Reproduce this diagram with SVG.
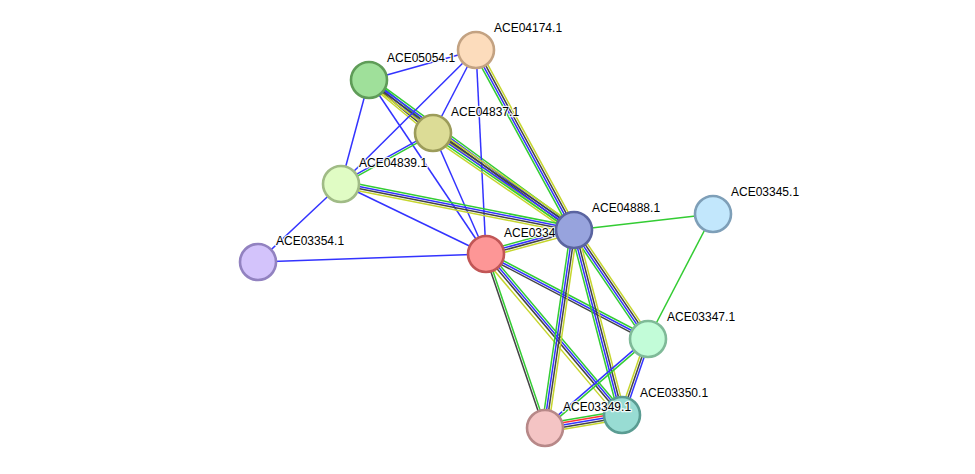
<svg xmlns="http://www.w3.org/2000/svg" width="975" height="474" viewBox="0 0 975 474">
<style>
line{stroke-width:1.5;fill:none}
.g{stroke:#33cc33}.b{stroke:#3333ff}.k{stroke:#444444}.y{stroke:#c6d62e}.r{stroke:#ff3333}
.node circle{stroke-width:2.6}
.node text{font-family:"Liberation Sans",Arial,sans-serif;font-size:12px;fill:#000;stroke:#fff;stroke-width:2.5;stroke-opacity:0.85;paint-order:stroke;stroke-linejoin:round}
</style>
<rect width="975" height="474" fill="#ffffff"/>
<g id="edges">
<g transform="translate(369,80) rotate(-15.66)"><line class="b" x2="111.1"/></g>
<g transform="translate(369,80) rotate(105.07)"><line class="b" x2="107.7"/></g>
<g transform="translate(369,80) rotate(56.08)"><line class="b" x2="209.7"/></g>
<g transform="translate(369,80) rotate(39.63)"><line class="g" y1="-3.3" y2="-3.3" x2="83.1"/><line class="b" y1="-1.1" y2="-1.1" x2="83.1"/><line class="k" y1="1.1" y2="1.1" x2="83.1"/><line class="y" y1="3.3" y2="3.3" x2="83.1"/></g>
<g transform="translate(369,80) rotate(36.19)"><line class="g" y1="-3.3" y2="-3.3" x2="254"/><line class="b" y1="-1.1" y2="-1.1" x2="254"/><line class="k" y1="1.1" y2="1.1" x2="254"/><line class="y" y1="3.3" y2="3.3" x2="254"/></g>
<g transform="translate(476,50) rotate(135.21)"><line class="b" x2="190.2"/></g>
<g transform="translate(476,50) rotate(117.39)"><line class="b" x2="93.5"/></g>
<g transform="translate(476,50) rotate(87.19)"><line class="b" x2="204.2"/></g>
<g transform="translate(476,50) rotate(61.43)"><line class="y" y1="-3.3" y2="-3.3" x2="204.9"/><line class="k" y1="-1.1" y2="-1.1" x2="204.9"/><line class="b" y1="1.1" y2="1.1" x2="204.9"/><line class="g" y1="3.3" y2="3.3" x2="204.9"/></g>
<g transform="translate(341,184) rotate(-29.0)"><line class="b" y1="-1.1" y2="-1.1" x2="105.2"/><line class="g" y1="1.1" y2="1.1" x2="105.2"/></g>
<g transform="translate(433,133) rotate(34.53)"><line class="y" y1="-4.4" y2="-4.4" x2="171.1"/><line class="k" y1="-2.2" y2="-2.2" x2="171.1"/><line class="b" y1="0" y2="0" x2="171.1"/><line class="g" y1="2.2" y2="2.2" x2="171.1"/><line class="y" y1="4.4" y2="4.4" x2="171.1"/></g>
<g transform="translate(433,133) rotate(66.35)"><line class="b" x2="132.1"/></g>
<g transform="translate(341,184) rotate(11.17)"><line class="g" y1="-3.3" y2="-3.3" x2="237.5"/><line class="b" y1="-1.1" y2="-1.1" x2="237.5"/><line class="k" y1="1.1" y2="1.1" x2="237.5"/><line class="y" y1="3.3" y2="3.3" x2="237.5"/></g>
<g transform="translate(341,184) rotate(25.77)"><line class="b" x2="161"/></g>
<g transform="translate(341,184) rotate(136.78)"><line class="b" x2="113.9"/></g>
<g transform="translate(258,262) rotate(-2.01)"><line class="b" x2="228.1"/></g>
<g transform="translate(486,254) rotate(-15.26)"><line class="g" y1="-3.3" y2="-3.3" x2="91.2"/><line class="b" y1="-1.1" y2="-1.1" x2="91.2"/><line class="k" y1="1.1" y2="1.1" x2="91.2"/><line class="y" y1="3.3" y2="3.3" x2="91.2"/></g>
<g transform="translate(486,254) rotate(27.68)"><line class="g" y1="-2.2" y2="-2.2" x2="182.9"/><line class="b" y1="0" y2="0" x2="182.9"/><line class="k" y1="2.2" y2="2.2" x2="182.9"/></g>
<g transform="translate(486,254) rotate(49.81)"><line class="g" y1="-3.3" y2="-3.3" x2="210.8"/><line class="b" y1="-1.1" y2="-1.1" x2="210.8"/><line class="k" y1="1.1" y2="1.1" x2="210.8"/><line class="y" y1="4.4" y2="4.4" x2="210.8"/></g>
<g transform="translate(486,254) rotate(71.27)"><line class="g" y1="-1.1" y2="-1.1" x2="183.7"/><line class="k" y1="1.1" y2="1.1" x2="183.7"/></g>
<g transform="translate(574,230) rotate(-6.57)"><line class="g" x2="139.9"/></g>
<g transform="translate(713,214) rotate(117.47)"><line class="g" x2="140.9"/></g>
<g transform="translate(574,230) rotate(55.83)"><line class="y" y1="-3.3" y2="-3.3" x2="131.7"/><line class="k" y1="-1.1" y2="-1.1" x2="131.7"/><line class="b" y1="1.1" y2="1.1" x2="131.7"/><line class="g" y1="3.3" y2="3.3" x2="131.7"/></g>
<g transform="translate(574,230) rotate(75.45)"><line class="y" y1="-3.3" y2="-3.3" x2="191.1"/><line class="k" y1="-1.1" y2="-1.1" x2="191.1"/><line class="b" y1="1.1" y2="1.1" x2="191.1"/><line class="g" y1="3.3" y2="3.3" x2="191.1"/></g>
<g transform="translate(574,230) rotate(98.33)"><line class="y" y1="-3.3" y2="-3.3" x2="200.1"/><line class="k" y1="-1.1" y2="-1.1" x2="200.1"/><line class="b" y1="1.1" y2="1.1" x2="200.1"/><line class="g" y1="3.3" y2="3.3" x2="200.1"/></g>
<g transform="translate(648,339) rotate(108.89)"><line class="b" y1="-2.2" y2="-2.2" x2="80.3"/><line class="k" y1="0" y2="0" x2="80.3"/><line class="y" y1="2.2" y2="2.2" x2="80.3"/></g>
<g transform="translate(648,339) rotate(139.17)"><line class="g" y1="-1.1" y2="-1.1" x2="136.1"/><line class="b" y1="1.1" y2="1.1" x2="136.1"/></g>
<g transform="translate(545,428) rotate(-9.58)"><line class="g" y1="-4.4" y2="-4.4" x2="78.1"/><line class="r" y1="-2.2" y2="-2.2" x2="78.1"/><line class="b" y1="0" y2="0" x2="78.1"/><line class="k" y1="2.2" y2="2.2" x2="78.1"/><line class="y" y1="4.4" y2="4.4" x2="78.1"/></g>
</g>
<g id="n-ACE04174" class="node"><circle cx="476" cy="50" r="18" fill="#fcdcbc" stroke="#c3a282"/><text x="494" y="32">ACE04174.1</text></g>
<g id="n-ACE05054" class="node"><circle cx="369" cy="80" r="18" fill="#9fe09a" stroke="#5f9c58"/><text x="387" y="62">ACE05054.1</text></g>
<g id="n-ACE04837" class="node"><circle cx="433" cy="133" r="18" fill="#dcdc96" stroke="#9c9c5a"/><text x="451" y="115.5">ACE04837.1</text></g>
<g id="n-ACE04839" class="node"><circle cx="341" cy="184" r="18" fill="#e0fcc4" stroke="#a0bb86"/><text x="359" y="167">ACE04839.1</text></g>
<g id="n-ACE03354" class="node"><circle cx="258" cy="262" r="18" fill="#d3c3fb" stroke="#9282c0"/><text x="276" y="245">ACE03354.1</text></g>
<g id="n-ACE03348" class="node"><circle cx="486" cy="254" r="18" fill="#fd9696" stroke="#c15656"/><text x="504" y="236.5">ACE03348.1</text></g>
<g id="n-ACE04888" class="node"><circle cx="574" cy="230" r="18" fill="#97a3dd" stroke="#5a64a0"/><text x="592" y="212">ACE04888.1</text></g>
<g id="n-ACE03345" class="node"><circle cx="713" cy="214" r="18" fill="#c2e7fc" stroke="#7e9fb8"/><text x="731" y="196">ACE03345.1</text></g>
<g id="n-ACE03347" class="node"><circle cx="648" cy="339" r="18" fill="#c2fcd8" stroke="#7fba98"/><text x="667" y="320.5">ACE03347.1</text></g>
<g id="n-ACE03350" class="node"><circle cx="622" cy="415" r="18" fill="#98dcd3" stroke="#5a9c92"/><text x="640" y="397">ACE03350.1</text></g>
<g id="n-ACE03349" class="node"><circle cx="545" cy="428" r="18" fill="#f4c4c4" stroke="#b78888"/><text x="563" y="411">ACE03349.1</text></g>
</svg>
